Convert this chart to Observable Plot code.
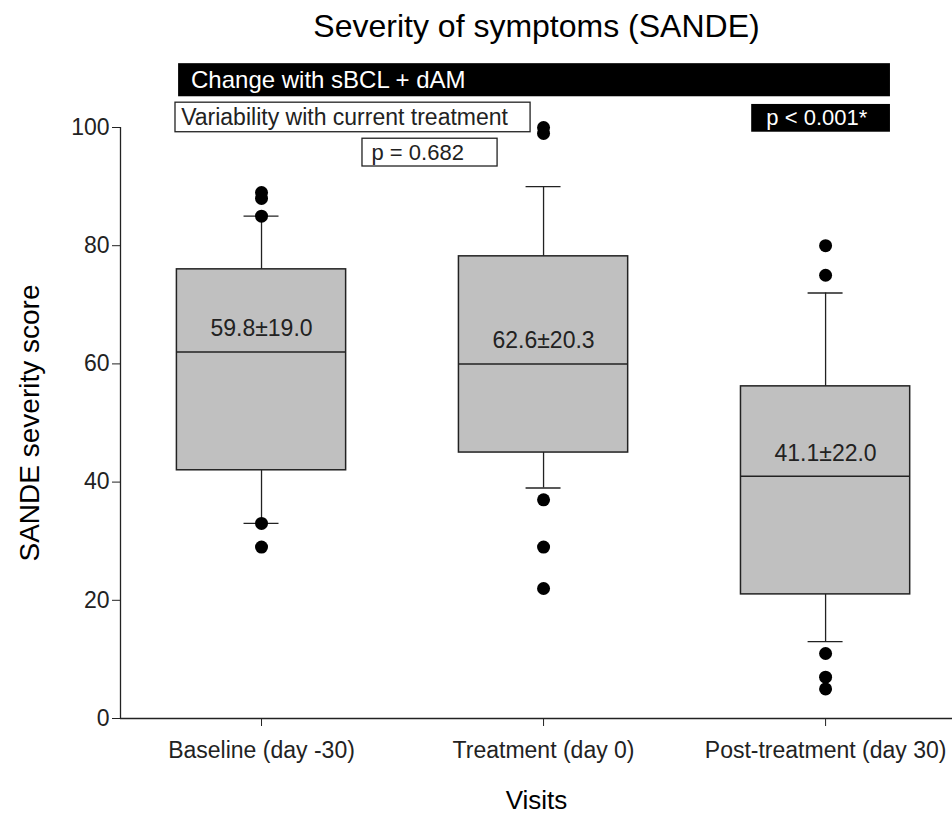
<!DOCTYPE html>
<html>
<head>
<meta charset="utf-8">
<script src="https://cdn.jsdelivr.net/npm/d3@7"></script>
<script src="https://cdn.jsdelivr.net/npm/@observablehq/plot@0.6"></script>
<style>
  html, body { margin: 0; padding: 0; background: #fff; }
  #chart svg { display: block; }
</style>
</head>
<body>
<div id="chart"></div>
<script>
// ---- data ----
const visits = ["Baseline (day -30)", "Treatment (day 0)", "Post-treatment (day 30)"];
const q1 = [42, 45, 21];
const median = [62, 60, 41];
const q3 = [76, 78.2, 56.2];
const whiskerLow = [33, 39, 13];
const whiskerHigh = [85, 90, 72];
const meanSd = ["59.8±19.0", "62.6±20.3", "41.1±22.0"];
const outliers = [[89, 88, 85, 33, 29], [100, 99, 37, 29, 22], [80, 75, 11, 7, 5]];
const yTicks = [0, 20, 40, 60, 80, 100];
const title = "Severity of symptoms (SANDE)";
const yLabel = "SANDE severity score";
const xLabel = "Visits";
const bannerText = "Change with sBCL + dAM";
const variabilityText = "Variability with current treatment";
const pCurrent = "p = 0.682";
const pChange = "p < 0.001*";

// ---- derived tables ----
const boxes = visits.map((v, i) => ({
  i, q1: q1[i], med: median[i], q3: q3[i], lo: whiskerLow[i], hi: whiskerHigh[i], label: meanSd[i]
}));
const points = outliers.flatMap((arr, i) => arr.map(v => ({ i, v })));

const halfBox = 0.3, halfCap = 0.062;
// annotation boxes in data units
const darkBoxes = [
  { x1: -0.294, x2: 2.23, y1: 105.2, y2: 110.8 },
  { x1: 1.738, x2: 2.23, y1: 99.2, y2: 103.9 }
];
const lightBoxes = [
  { x1: -0.305, x2: 0.954, y1: 99.2, y2: 104.2 },
  { x1: 0.358, x2: 0.837, y1: 93.4, y2: 98.1 }
];
const darkTexts = [
  { x: -0.25, y: 108.0, t: bannerText, s: 24 },
  { x: 1.79, y: 101.55, t: pChange, s: 22 }
];
const lightTexts = [
  { x: -0.285, y: 101.7, t: variabilityText, s: 23 },
  { x: 0.39, y: 95.75, t: pCurrent, s: 22 }
];

const ink = "#222";
const chart = Plot.plot({
  width: 952,
  height: 817,
  marginLeft: 120,
  marginRight: 0,
  marginTop: 127,
  marginBottom: 99,
  style: { fontFamily: "'Liberation Sans', Arial, sans-serif", color: ink, background: "#fff" },
  x: { type: "linear", domain: [-0.5, 2.45] },
  y: { domain: [0, 100] },
  marks: [
    // axes
    Plot.axisY({ ticks: yTicks, tickSize: 8, tickPadding: 3, fontSize: 23, label: null, stroke: ink }),
    Plot.axisX({ ticks: [0, 1, 2], tickFormat: i => visits[i], tickSize: 8, tickPadding: 15, fontSize: 23, label: null, stroke: ink }),
    Plot.ruleX([-0.5], { y1: 0, y2: 100, stroke: ink, strokeWidth: 1.3 }),
    Plot.ruleY([0], { x1: -0.5, x2: 2.45, stroke: ink, strokeWidth: 1.3 }),
    // whiskers
    Plot.ruleX(boxes, { x: "i", y1: "lo", y2: "q1", stroke: ink, strokeWidth: 1.3 }),
    Plot.ruleX(boxes, { x: "i", y1: "q3", y2: "hi", stroke: ink, strokeWidth: 1.3 }),
    Plot.ruleY(boxes, { y: "lo", x1: d => d.i - halfCap, x2: d => d.i + halfCap, stroke: ink, strokeWidth: 1.3 }),
    Plot.ruleY(boxes, { y: "hi", x1: d => d.i - halfCap, x2: d => d.i + halfCap, stroke: ink, strokeWidth: 1.3 }),
    // boxes
    Plot.rect(boxes, { x1: d => d.i - halfBox, x2: d => d.i + halfBox, y1: "q1", y2: "q3", fill: "#c0c0c0", stroke: ink, strokeWidth: 1.5 }),
    Plot.ruleY(boxes, { y: "med", x1: d => d.i - halfBox, x2: d => d.i + halfBox, stroke: ink, strokeWidth: 1.5 }),
    Plot.text(boxes, { x: "i", y: "med", text: "label", dy: -23, fontSize: 23, fill: ink }),
    // outliers
    Plot.dot(points, { x: "i", y: "v", r: 6.5, fill: "#000", stroke: "none" }),
    // annotations
    Plot.rect(darkBoxes, { x1: "x1", x2: "x2", y1: "y1", y2: "y2", fill: "#000" }),
    Plot.rect(lightBoxes, { x1: "x1", x2: "x2", y1: "y1", y2: "y2", fill: "#fff", stroke: ink, strokeWidth: 1.3 }),
    Plot.text(darkTexts, { x: "x", y: "y", text: "t", textAnchor: "start", fill: "#fff", fontSize: d => d.s }),
    Plot.text(lightTexts, { x: "x", y: "y", text: "t", textAnchor: "start", fill: ink, fontSize: d => d.s }),
    // titles
    Plot.text([title], { frameAnchor: "top", dy: -101, lineAnchor: "middle", fontSize: 32, fill: "#000" }),
    Plot.text([yLabel], { frameAnchor: "left", dx: -90, rotate: -90, textAnchor: "middle", lineAnchor: "middle", fontSize: 28, fill: "#000" }),
    Plot.text([xLabel], { frameAnchor: "bottom", dy: 82, lineAnchor: "middle", fontSize: 26, fill: "#000" })
  ]
});
document.getElementById("chart").append(chart);
</script>
</body>
</html>
